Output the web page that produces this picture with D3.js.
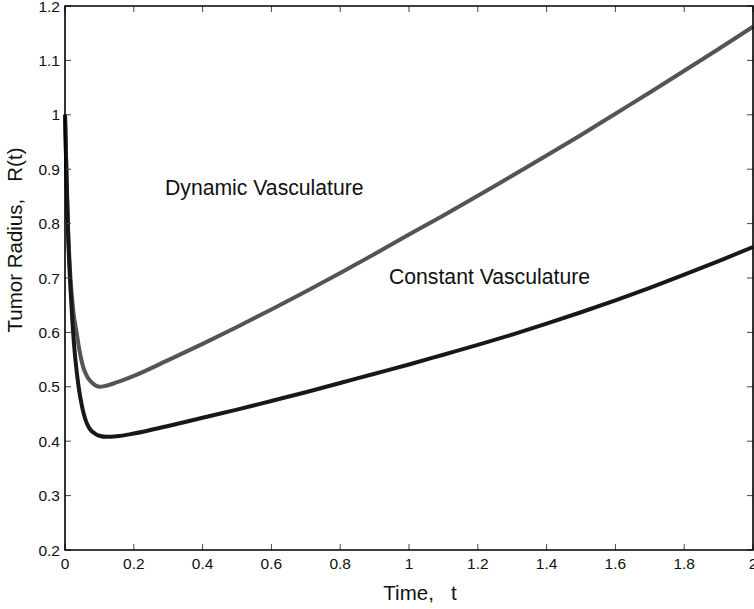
<!doctype html>
<html lang="en">
<head>
  <meta charset="utf-8" />
  <title>Tumor Radius</title>
  <script src="https://cdn.jsdelivr.net/npm/d3@7"></script>
  <style>
    body { margin: 0; background: #fff; }
    svg { display: block; font-family: "Liberation Sans", Arial, Helvetica, sans-serif; }
    .tick-label { font-size: 15.5px; fill: #111; }
    .label { font-size: 20.5px; fill: #111; white-space: pre; }
    .note { font-size: 21.2px; fill: #111; }
  </style>
</head>
<body>
<script type="text/javascript">

  // data
  var tDynamic = [0, 0.004, 0.009, 0.016, 0.024, 0.034, 0.042, 0.052, 0.065, 0.081, 0.1, 0.12, 0.15, 0.2, 0.3, 0.4, 0.5,
                  0.6, 0.7, 0.8, 0.9, 1.0, 1.1, 1.2, 1.3, 1.4, 1.5, 1.6, 1.7, 1.8, 1.9, 2.0];
  var rDynamic = [1.0, 0.90, 0.79, 0.70, 0.64, 0.599, 0.567, 0.538, 0.518, 0.506, 0.500, 0.502, 0.508, 0.520, 0.549, 0.579, 0.610,
                  0.642, 0.675, 0.709, 0.744, 0.780, 0.815, 0.851, 0.888, 0.925, 0.963, 1.002, 1.041, 1.081, 1.121, 1.162];

  var tConstant = [0, 0.004, 0.009, 0.016, 0.022, 0.028, 0.034, 0.040, 0.047, 0.055, 0.064, 0.074, 0.087, 0.1, 0.122, 0.15, 0.2, 0.3, 0.4, 0.5,
                   0.6, 0.7, 0.8, 0.9, 1.0, 1.1, 1.2, 1.3, 1.4, 1.5, 1.6, 1.7, 1.8, 1.9, 2.0];
  var rConstant = [1.0, 0.895, 0.78, 0.68, 0.615, 0.565, 0.528, 0.498, 0.472, 0.449, 0.432, 0.421, 0.414, 0.410, 0.408, 0.409, 0.414, 0.428, 0.443, 0.458,
                   0.474, 0.490, 0.507, 0.524, 0.541, 0.559, 0.577, 0.596, 0.616, 0.637, 0.659, 0.682, 0.706, 0.731, 0.757];

  var xTicks = [0, 0.2, 0.4, 0.6, 0.8, 1, 1.2, 1.4, 1.6, 1.8, 2];
  var xTickLabels = ["0", "0.2", "0.4", "0.6", "0.8", "1", "1.2", "1.4", "1.6", "1.8", "2"];
  var yTicks = [0.2, 0.3, 0.4, 0.5, 0.6, 0.7, 0.8, 0.9, 1, 1.1, 1.2];
  var yTickLabels = ["0.2", "0.3", "0.4", "0.5", "0.6", "0.7", "0.8", "0.9", "1", "1.1", "1.2"];

  var width = 754, height = 609;
  var plot = { left: 65, right: 753, top: 6, bottom: 550 };

  var svg = d3.select("body").append("svg")
      .attr("width", width)
      .attr("height", height);

  var x = d3.scaleLinear().domain([0, 2]).range([plot.left, plot.right]);
  var y = d3.scaleLinear().domain([0.2, 1.2]).range([plot.bottom, plot.top]);

  var line = d3.line()
      .x(function(d) { return x(d[0]); })
      .y(function(d) { return y(d[1]); })
      .curve(d3.curveMonotoneX);

  var dynamicData = tDynamic.map(function(t, i) { return [t, rDynamic[i]]; });
  var constantData = tConstant.map(function(t, i) { return [t, rConstant[i]]; });

  // curves (gray under black)
  svg.append("path")
      .datum(dynamicData)
      .attr("fill", "none")
      .attr("stroke", "#545454")
      .attr("stroke-width", 4)
      .attr("d", line);

  svg.append("path")
      .datum(constantData)
      .attr("fill", "none")
      .attr("stroke", "#181818")
      .attr("stroke-width", 4)
      .attr("d", line);

  // inward ticks on all four sides
  var tickLen = 6;
  var ticks = svg.append("g").attr("stroke", "#444").attr("stroke-width", 1);
  xTicks.forEach(function(t) {
    ticks.append("line").attr("x1", x(t)).attr("x2", x(t)).attr("y1", plot.bottom).attr("y2", plot.bottom - tickLen);
    ticks.append("line").attr("x1", x(t)).attr("x2", x(t)).attr("y1", plot.top).attr("y2", plot.top + tickLen);
  });
  yTicks.forEach(function(v) {
    ticks.append("line").attr("x1", plot.left).attr("x2", plot.left + tickLen).attr("y1", y(v)).attr("y2", y(v));
    ticks.append("line").attr("x1", plot.right).attr("x2", plot.right - tickLen).attr("y1", y(v)).attr("y2", y(v));
  });

  // box
  svg.append("path")
      .attr("fill", "none")
      .attr("stroke", "#000")
      .attr("stroke-width", 1.6)
      .attr("d", "M" + plot.left + "," + plot.top + "H" + plot.right + "V" + plot.bottom + "H" + plot.left + "Z");

  // tick labels
  svg.append("g").selectAll("text")
      .data(xTicks)
    .enter().append("text")
      .attr("class", "tick-label")
      .attr("x", function(d) { return x(d); })
      .attr("y", 569)
      .attr("text-anchor", "middle")
      .text(function(d, i) { return xTickLabels[i]; });

  svg.append("g").selectAll("text")
      .data(yTicks)
    .enter().append("text")
      .attr("class", "tick-label")
      .attr("x", 60)
      .attr("y", function(d) { return y(d) + 5.5; })
      .attr("text-anchor", "end")
      .text(function(d, i) { return yTickLabels[i]; });

  // axis labels
  svg.append("text")
      .attr("class", "label")
      .attr("x", 420)
      .attr("y", 600)
      .attr("text-anchor", "middle")
      .text("Time,   t");

  svg.append("text")
      .attr("class", "label")
      .attr("transform", "translate(22,240) rotate(-90)")
      .attr("text-anchor", "middle")
      .text("Tumor Radius,   R(t)");

  // curve annotations
  svg.append("text")
      .attr("class", "note")
      .attr("x", 165)
      .attr("y", 195)
      .text("Dynamic Vasculature");

  svg.append("text")
      .attr("class", "note")
      .attr("x", 389)
      .attr("y", 284)
      .text("Constant Vasculature");

</script>
</body>
</html>
